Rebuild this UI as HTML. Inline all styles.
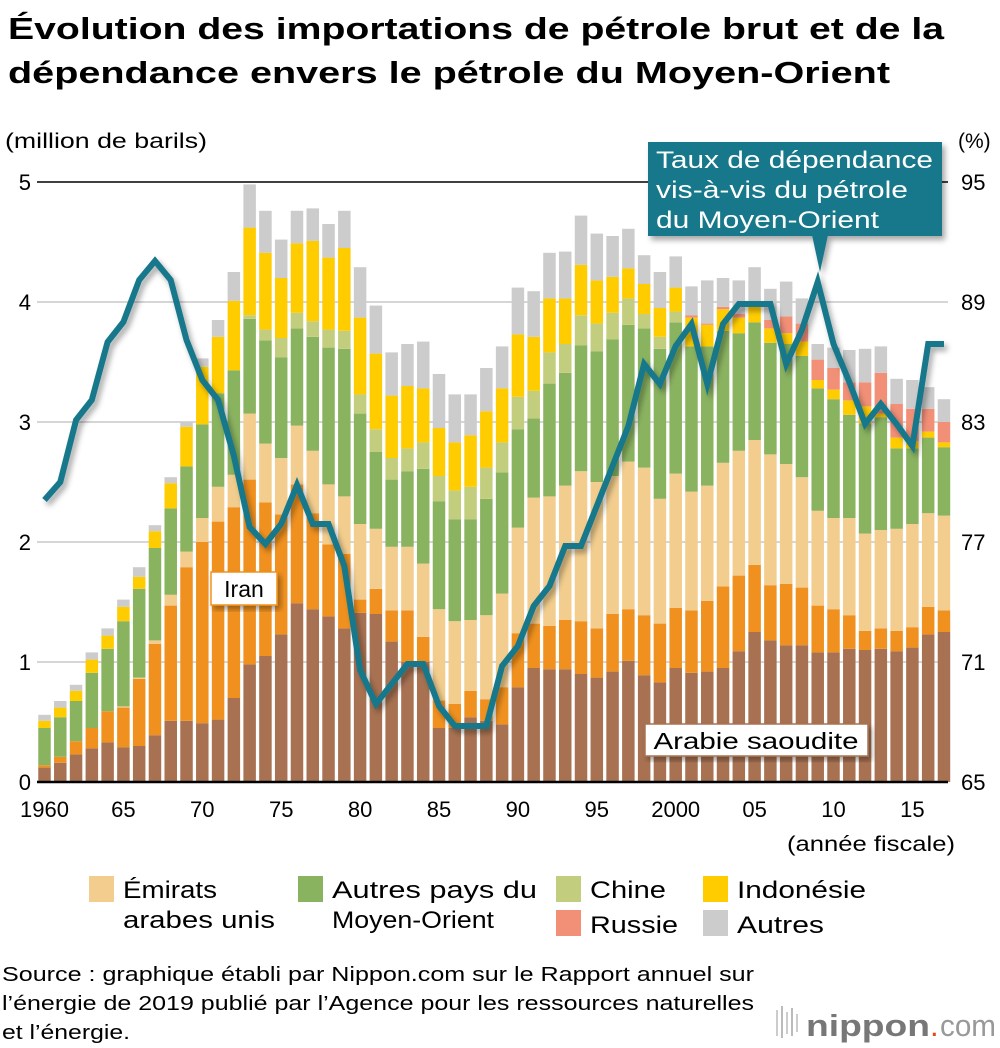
<!DOCTYPE html>
<html><head><meta charset="utf-8">
<style>
html,body{margin:0;padding:0;background:#fff;}
svg{display:block;font-family:"Liberation Sans",Arial,sans-serif;}
</style></head>
<body>
<svg id="chart" width="1000" height="1048" viewBox="0 0 1000 1048">
<defs>
<filter id="sh" x="-10%" y="-10%" width="120%" height="130%">
<feDropShadow dx="3" dy="4" stdDeviation="3" flood-color="#000" flood-opacity="0.35"/>
</filter>
</defs>
<text x="8" y="39" font-size="31" font-weight="bold" textLength="936" lengthAdjust="spacingAndGlyphs">Évolution des importations de pétrole brut et de la</text>
<text x="8" y="83" font-size="31" font-weight="bold" textLength="882" lengthAdjust="spacingAndGlyphs">dépendance envers le pétrole du Moyen-Orient</text>
<text x="5" y="148" font-size="21" textLength="202" lengthAdjust="spacingAndGlyphs">(million de barils)</text>
<text x="958" y="148" font-size="21">(%)</text>
<g id="grid"></g>
<g id="bars"></g>
<g id="line"></g>
<g id="axes"></g>
<g id="labels"></g>
</svg>
<script>
var years = [];
for (var yy = 1960; yy <= 2017; yy++) years.push(yy);
var saudi = [.12,.16,.23,.28,.33,.29,.30,.39,.51,.51,.49,.52,.70,.98,1.05,1.23,1.49,1.44,1.38,1.28,1.41,1.40,1.17,1.0,1.0,.45,.45,.54,.51,.48,.79,.95,.94,.94,.90,.87,.92,1.01,.89,.83,.95,.91,.92,.95,1.09,1.25,1.18,1.14,1.14,1.08,1.08,1.11,1.10,1.11,1.09,1.12,1.23,1.25];
var iran = [.02,.05,.11,.17,.26,.33,.56,.76,.96,1.28,1.51,1.65,1.59,1.54,1.28,1.0,.99,.80,.60,.62,.11,.21,.26,.43,.21,.23,.20,.22,.18,.31,.45,.37,.36,.41,.44,.41,.48,.43,.50,.49,.50,.52,.59,.68,.63,.56,.46,.51,.48,.39,.36,.28,.16,.17,.17,.17,.23,.18];
var uae = [0,0,0,0,0,.01,.01,.03,.09,.13,.20,.29,.27,.55,.49,.47,.49,.52,.50,.48,.63,.50,.53,.53,.61,.76,.69,.59,.70,.78,.88,1.05,1.08,1.12,1.25,1.22,1.15,1.23,1.23,1.04,1.12,.99,.96,1.03,1.04,1.04,1.09,1.0,.92,.79,.76,.81,.81,.82,.85,.86,.78,.79];
var otherME = [.31,.33,.335,.46,.52,.71,.74,.77,.72,.71,.78,.78,.87,.79,.86,.84,.81,.95,1.14,1.23,.92,.64,.56,.63,.79,.90,.85,.84,.97,1.01,.82,.66,.94,.94,1.05,1.09,1.14,1.14,1.16,1.25,1.26,1.21,1.16,1.10,.98,.98,.93,1.0,1.01,1.02,.99,.86,.92,.94,.67,.63,.63,.57];
var china = [0,0,0,0,0,0,0,0,0,0,0,0,0,.03,.09,.16,.13,.13,.15,.15,.16,.19,.18,.19,.22,.21,.24,.27,.26,.25,.27,.23,.26,.24,.25,.23,.22,.22,.12,.10,.09,0,0,0,0,0,0,0,0,0,0,0,0,0,0,0,0,0];
var indonesia = [.06,.08,.085,.11,.11,.12,.10,.14,.21,.33,.48,.47,.58,.73,.64,.50,.58,.67,.60,.69,.64,.63,.52,.52,.45,.40,.40,.43,.47,.45,.52,.45,.45,.38,.42,.36,.30,.25,.25,.24,.20,.24,.18,.18,.13,.13,.12,.09,.12,.07,.08,.12,.14,.03,.09,.06,.05,.04];
var russia = [0,0,0,0,0,0,0,0,0,0,0,0,0,0,0,0,0,0,0,0,0,0,0,0,0,0,0,0,0,0,0,0,0,0,0,0,0,0,0,0,0,.02,.01,.02,.03,0,.07,.14,.15,.17,.18,.15,.20,.34,.28,.27,.19,.17];
var others = [.05,.055,.05,.06,.06,.06,.08,.05,.05,.04,.07,.14,.24,.36,.35,.32,.27,.27,.28,.31,.42,.40,.36,.35,.39,.45,.40,.34,.36,.35,.39,.38,.38,.39,.41,.39,.34,.33,.24,.30,.26,.24,.36,.24,.28,.33,.26,.29,.21,.13,.17,.27,.28,.22,.21,.24,.18,.19];
var dependence = [79.1,80.0,83.1,84.1,87.0,88.0,90.1,91.05,90.1,87.1,85.1,84.1,81.3,77.75,76.9,77.9,79.85,77.9,77.9,75.8,70.6,68.9,69.9,70.9,70.9,68.8,67.8,67.8,67.8,70.8,71.8,73.8,74.8,76.8,76.8,78.8,80.8,82.8,85.9,84.9,86.8,87.9,84.9,87.9,88.9,88.9,88.9,85.9,87.6,90.0,86.9,85.0,82.9,83.9,82.9,81.8,86.9,86.9];
var leftTicks = [0,1,2,3,4,5];
var rightTicks = [65,71,77,83,89,95];
var xTickYears = [1960,1965,1970,1975,1980,1985,1990,1995,2000,2005,2010,2015];
var xTickLabels = ["1960","65","70","75","80","85","90","95","2000","05","10","15"];

var NS = "http://www.w3.org/2000/svg";
function xs(i){ return 44.5 + 15.78 * i; }
function yL(v){ return 782 - 120 * v; }
function yR(p){ return 782 - (p - 65) * 20; }
function mk(tag, attrs, parent){
  var e = document.createElementNS(NS, tag);
  for (var k in attrs) e.setAttribute(k, attrs[k]);
  parent.appendChild(e); return e;
}
var grid = document.getElementById('grid');
leftTicks.forEach(function(t){
  var l = mk('line', {x1:37, x2:948, y1:yL(t), y2:yL(t), stroke: t===5 ? '#000' : '#c8c8c8', 'stroke-width': 1.5}, grid);
  
  
});
var series = [
  {n:'saudi-arabia', d:saudi, c:'#A87252'},
  {n:'iran', d:iran, c:'#F0911F'},
  {n:'uae', d:uae, c:'#F2CD8E'},
  {n:'other-middle-east', d:otherME, c:'#8AB360'},
  {n:'china', d:china, c:'#C2CE7E'},
  {n:'indonesia', d:indonesia, c:'#FFCC00'},
  {n:'russia', d:russia, c:'#F28F77'},
  {n:'others', d:others, c:'#CCCCCC'}
];
var bars = document.getElementById('bars');
years.forEach(function(yr, i){
  var cum = 0;
  series.forEach(function(s){
    var v = s.d[i];
    if (v > 0) {
      var r = mk('rect', {x: xs(i) - 6.25, y: yL(cum + v), width: 12.5, height: 120 * v, fill: s.c}, bars);
      
      
    }
    cum += v;
  });
});
var lineG = document.getElementById('line');
var pts = dependence.map(function(p, i){ return xs(i).toFixed(1) + ',' + yR(p).toFixed(1); }).join(' ');
var pl = mk('polyline', {points: pts, fill:'none', stroke:'#17788A', 'stroke-width':6, 'stroke-linejoin':'miter', filter:'url(#sh)'}, lineG);



var axes = document.getElementById('axes');
var base = mk('line', {x1:37, x2:948, y1:782, y2:782, stroke:'#000', 'stroke-width':2.5}, axes);


leftTicks.forEach(function(t){
  var tx = mk('text', {x: 31, y: yL(t) + 8, 'font-size': 22, 'text-anchor':'end'}, axes);
  tx.textContent = t;
  
  
});
rightTicks.forEach(function(t){
  var tx = mk('text', {x: 961, y: yR(t) + 8, 'font-size': 22}, axes);
  tx.textContent = t;
  
  
});
xTickYears.forEach(function(yr, k){
  var i = yr - 1960;
  var tx = mk('text', {x: xs(i), y: 817, 'font-size': 22, 'text-anchor':'middle'}, axes);
  tx.textContent = xTickLabels[k];
  
  
});
</script>
<script>
(function(){
var g=document.getElementById('labels');
g.innerHTML =
'<text x="955" y="851" font-size="21" text-anchor="end" textLength="168" lengthAdjust="spacingAndGlyphs">(année fiscale)</text>'+
'<g filter="url(#sh)"><rect x="211" y="572" width="66" height="33" fill="#fff" stroke="#F0911F" stroke-width="1.5"/></g>'+
'<text x="244" y="597" font-size="23" text-anchor="middle">Iran</text>'+
'<g filter="url(#sh)"><rect x="645" y="724" width="223" height="32" fill="#fff" stroke="#A87252" stroke-width="1.5"/></g>'+
'<text x="756" y="749" font-size="23" text-anchor="middle" textLength="205" lengthAdjust="spacingAndGlyphs">Arabie saoudite</text>'+
'<g filter="url(#sh)"><rect x="648" y="142" width="294" height="94" fill="#17788A"/><polygon points="812,235 828,235 820,272" fill="#17788A"/></g>'+
'<text x="656" y="168" font-size="24" fill="#fff" textLength="277" lengthAdjust="spacingAndGlyphs">Taux de dépendance</text>'+
'<text x="656" y="198" font-size="24" fill="#fff" textLength="252" lengthAdjust="spacingAndGlyphs">vis-à-vis du pétrole</text>'+
'<text x="656" y="228" font-size="24" fill="#fff" textLength="223" lengthAdjust="spacingAndGlyphs">du Moyen-Orient</text>'+
'<g>'+
'<rect x="89" y="876" width="25" height="26" fill="#F2CD8E"/>'+
'<text x="123" y="898" font-size="24" textLength="94" lengthAdjust="spacingAndGlyphs">Émirats</text>'+
'<text x="123" y="928" font-size="24" textLength="152" lengthAdjust="spacingAndGlyphs">arabes unis</text>'+
'<rect x="298" y="876" width="25" height="26" fill="#8AB360"/>'+
'<text x="332" y="898" font-size="24" textLength="205" lengthAdjust="spacingAndGlyphs">Autres pays du</text>'+
'<text x="332" y="928" font-size="24" textLength="162" lengthAdjust="spacingAndGlyphs">Moyen-Orient</text>'+
'<rect x="556" y="876" width="25" height="26" fill="#C2CE7E"/>'+
'<text x="590" y="898" font-size="24" textLength="76" lengthAdjust="spacingAndGlyphs">Chine</text>'+
'<rect x="703" y="876" width="25" height="26" fill="#FFCC00"/>'+
'<text x="737" y="898" font-size="24" textLength="129" lengthAdjust="spacingAndGlyphs">Indonésie</text>'+
'<rect x="556" y="910" width="25" height="26" fill="#F28F77"/>'+
'<text x="590" y="933" font-size="24" textLength="88" lengthAdjust="spacingAndGlyphs">Russie</text>'+
'<rect x="703" y="910" width="25" height="26" fill="#CCCCCC"/>'+
'<text x="737" y="933" font-size="24" textLength="87" lengthAdjust="spacingAndGlyphs">Autres</text>'+
'</g>'+
'<text x="2" y="981" font-size="20" textLength="752" lengthAdjust="spacingAndGlyphs">Source : graphique établi par Nippon.com sur le Rapport annuel sur</text>'+
'<text x="2" y="1010" font-size="20" textLength="752" lengthAdjust="spacingAndGlyphs">l’énergie de 2019 publié par l’Agence pour les ressources naturelles</text>'+
'<text x="2" y="1039" font-size="20" textLength="128" lengthAdjust="spacingAndGlyphs">et l’énergie.</text>'+
'<g>'+
'<rect x="776" y="1010" width="2" height="26" fill="#ccc"/><rect x="781" y="1006" width="2" height="32" fill="#bbb"/><rect x="786" y="1012" width="2" height="22" fill="#ccc"/><rect x="791" y="1008" width="2" height="28" fill="#bbb"/><rect x="796" y="1014" width="2" height="18" fill="#ccc"/>'+
'<text x="806" y="1036" font-size="31" fill="#777" font-weight="bold" textLength="124" lengthAdjust="spacingAndGlyphs">nippon</text>'+
'<text x="930" y="1036" font-size="31" fill="#E6461E">.</text>'+
'<text x="940" y="1036" font-size="31" fill="#999" textLength="56" lengthAdjust="spacingAndGlyphs">com</text>'+
'</g>';
})();
</script>
</body></html>
